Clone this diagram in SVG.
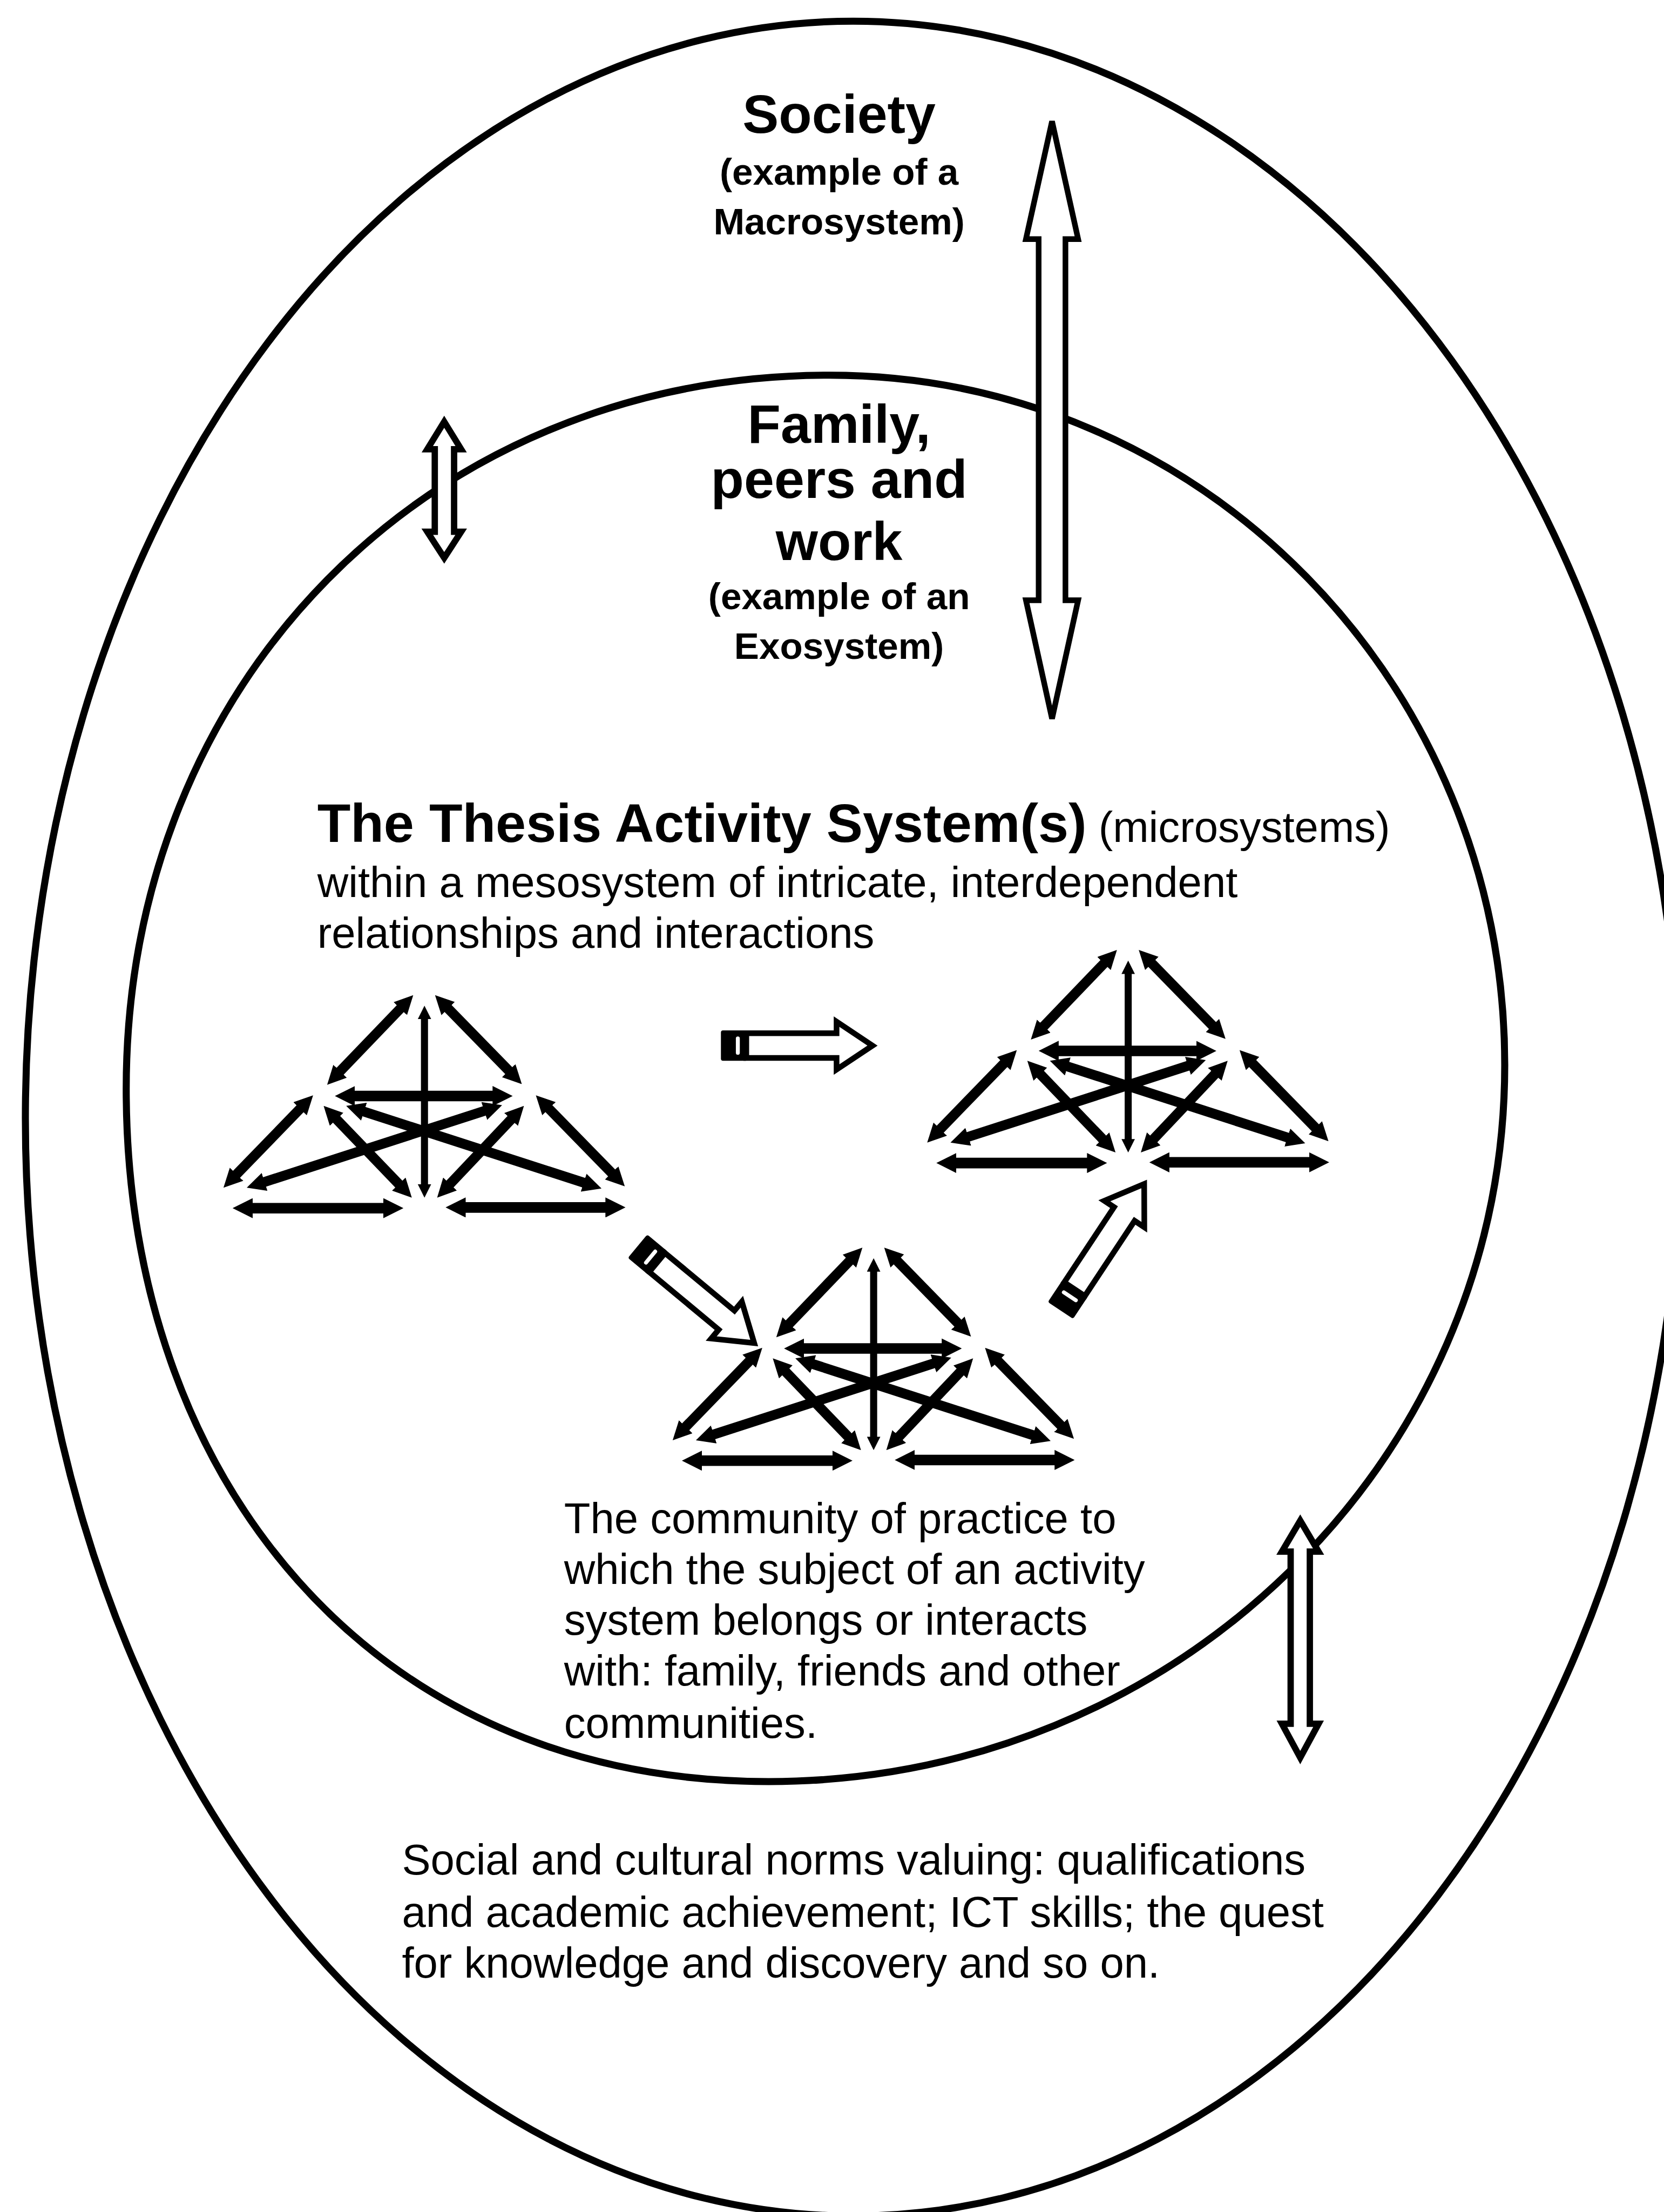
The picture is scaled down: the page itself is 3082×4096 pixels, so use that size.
<svg xmlns="http://www.w3.org/2000/svg" width="3082" height="4096" viewBox="0 0 3082 4096">
  <defs>
    <style>
      .ring { fill: none; stroke: #000; stroke-width: 5; }
      .hollow { fill: #fff; stroke: #000; stroke-linejoin: miter; }
      .link { fill: none; stroke: #000; marker-start: url(#tip); marker-end: url(#tip); }
      .edge { stroke-width: 7; }
      .bar { stroke-width: 7.5; }
      .stem { stroke-width: 5; }
      .head { font-family: "Liberation Sans", Arial, Helvetica, sans-serif; font-weight: bold; font-size: 38.5px; text-anchor: middle; fill: #000; }
      .sub { font-family: "Liberation Sans", Arial, Helvetica, sans-serif; font-weight: bold; font-size: 26.5px; text-anchor: middle; fill: #000; }
      .body { font-family: "Liberation Sans", Arial, Helvetica, sans-serif; font-size: 30.5px; fill: #000; }
      .title { font-weight: bold; font-size: 38.6px; }
      .aside { font-weight: normal; font-size: 30.5px; }
    </style>
    <marker id="tip" viewBox="0 0 10 10" refX="4.5" refY="5" markerWidth="1.9" markerHeight="1.9" orient="auto-start-reverse" markerUnits="strokeWidth">
      <path d="M0,0 L10,5 L0,10 z" fill="#000"/>
    </marker>
    <!-- activity system triangle: six corners joined by twelve two-way links -->
    <g id="activity-system">
      <line class="link edge" x1="287.96" y1="710.75" x2="237.04" y2="763.75"/>
      <line class="link edge" x1="313.59" y1="710.71" x2="364.92" y2="763.29"/>
      <line class="link stem" x1="301" y1="718.2" x2="301" y2="843.8"/>
      <line class="link bar" x1="245.3" y1="777" x2="355.7" y2="777"/>
      <line class="link edge" x1="216.93" y1="781.73" x2="163.57" y2="836.77"/>
      <line class="link edge" x1="385.09" y1="781.71" x2="437.91" y2="835.79"/>
      <line class="link edge" x1="234.55" y1="789.25" x2="286.95" y2="843.75"/>
      <line class="link edge" x1="366.5" y1="789.29" x2="315.0" y2="843.71"/>
      <line class="link edge" x1="252.43" y1="786.24" x2="419.57" y2="840.26"/>
      <line class="link edge" x1="349.07" y1="785.74" x2="181.93" y2="839.76"/>
      <line class="link bar" x1="172.8" y1="856.5" x2="278.2" y2="856.5"/>
      <line class="link bar" x1="323.8" y1="856" x2="435.7" y2="856"/>
    </g>
    <!-- hollow block arrow with a dark tail cap, pointing along +x -->
    <g id="pencil-arrow">
      <path class="hollow" stroke-width="4" d="M18,-8.75 H82 V-17 L107.5,0 L82,17 V8.75 H18 Z"/>
      <rect x="0" y="-10.75" width="19" height="21.5" rx="1.5" fill="#000"/>
      <rect x="10.6" y="-6.5" width="2.8" height="13" rx="1.4" fill="#fff"/>
    </g>
  </defs>

  <rect width="3082" height="4096" fill="#fff"/>

  <g transform="scale(2.612)">
    <!-- nested systems -->
    <g id="macrosystem">
      <ellipse class="ring" cx="605" cy="793" rx="587" ry="778"/>
    </g>
    <g id="exosystem">
      <path class="ring" d="M588,266 C852.5,266 1067,484.9 1067,755 C1067,1035.6 833.3,1263 545,1263 C262.6,1263 89.5,1047 89.5,772 C89.5,483.6 303.9,266 588,266 Z"/>
    </g>

    <g id="connectors">
      <!-- society <-> exosystem -->
      <path class="hollow" stroke-width="4" d="M746,86 L764.5,169.5 H755.5 V425.5 H764.5 L746,509.5 L727.5,425.5 H736.5 V169.5 H727.5 Z"/>
      <!-- small two-way arrow across the exosystem boundary (upper left) -->
      <path class="hollow" stroke-width="4.5" d="M315,299 L327,318.5 H322 V377 H327 L315,395.5 L303,377 H308.3 V318.5 H303 Z"/>
      <!-- two-way arrow across the exosystem boundary (lower right) -->
      <path class="hollow" stroke-width="4.5" d="M922,1078 L935,1100 H928.8 V1222 H935 L922,1246 L909,1222 H915.2 V1100 H909 Z"/>
      <!-- movement between activity systems -->
      <use href="#pencil-arrow" transform="translate(511.2,741.25)"/>
      <use href="#pencil-arrow" transform="translate(452.1,883.5) rotate(39.7)"/>
      <use href="#pencil-arrow" transform="translate(752,929) rotate(-56.5)"/>
    </g>

    <g id="activity-system-left">
      <use href="#activity-system"/>
    </g>
    <g id="activity-system-right">
      <use href="#activity-system" transform="translate(499,-32)"/>
    </g>
    <g id="activity-system-bottom">
      <use href="#activity-system" transform="translate(318.5,179)"/>
    </g>

    <g id="label-society">
      <text class="head" x="595" y="94">Society</text>
      <text class="sub" x="595" y="131">(example of a</text>
      <text class="sub" x="595" y="166">Macrosystem)</text>
    </g>

    <g id="label-family">
      <text class="head" x="595" y="314">Family,</text>
      <text class="head" x="595" y="353">peers and</text>
      <text class="head" x="595" y="397">work</text>
      <text class="sub" x="595" y="432">(example of an</text>
      <text class="sub" x="595" y="467">Exosystem)</text>
    </g>

    <g id="label-thesis">
      <text class="body" x="225" y="597"><tspan class="title">The Thesis Activity System(s)</tspan><tspan class="aside"> (microsystems)</tspan></text>
      <text class="body" x="225" y="636">within a mesosystem of intricate, interdependent</text>
      <text class="body" x="225" y="672">relationships and interactions</text>
    </g>

    <g id="label-community">
      <text class="body" x="400" y="1087">The community of practice to</text>
      <text class="body" x="400" y="1123">which the subject of an activity</text>
      <text class="body" x="400" y="1159">system belongs or interacts</text>
      <text class="body" x="400" y="1195">with: family, friends and other</text>
      <text class="body" x="400" y="1232">communities.</text>
    </g>

    <g id="label-norms">
      <text class="body" x="285" y="1329">Social and cultural norms valuing: qualifications</text>
      <text class="body" x="285" y="1366">and academic achievement; ICT skills; the quest</text>
      <text class="body" x="285" y="1402">for knowledge and discovery and so on.</text>
    </g>
  </g>
</svg>
